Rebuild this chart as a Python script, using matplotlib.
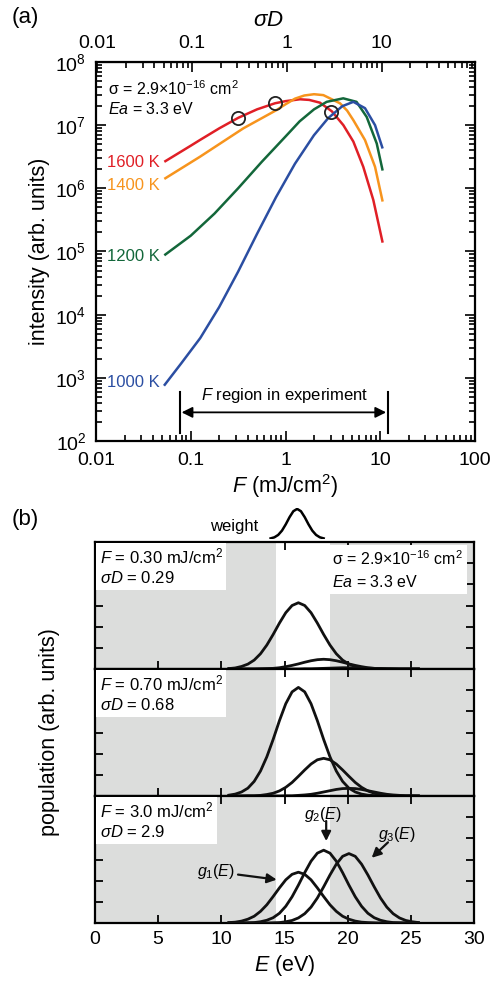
import matplotlib
matplotlib.use('Agg')
import matplotlib.pyplot as plt
from matplotlib.ticker import LogLocator, NullFormatter, MultipleLocator

plt.rcParams['font.family'] = ['Liberation Sans', 'DejaVu Sans']
plt.rcParams['mathtext.fontset'] = 'custom'
plt.rcParams['mathtext.rm'] = 'Liberation Sans'
plt.rcParams['mathtext.it'] = 'Liberation Sans:italic'
plt.rcParams['mathtext.bf'] = 'Liberation Sans:bold'

# ---------------- data: panel (a) ----------------
F_1600 = [0.0526, 0.1, 0.125, 0.2, 0.318, 0.501, 0.774, 1.0, 1.42, 1.78, 2.31, 3.08, 4.08, 5.20, 6.62, 8.45, 10.6]
I_1600 = [2.63e6, 4.73e6, 5.82e6, 8.91e6, 1.31e7, 1.78e7, 2.22e7, 2.40e7, 2.57e7, 2.51e7, 2.27e7, 1.66e7, 1.0e7, 5.5e6, 2.19e6, 6.53e5, 1.38e5]
F_1400 = [0.0526, 0.125, 0.359, 0.807, 1.0, 1.26, 1.58, 2.0, 2.51, 3.76, 4.47, 5.20, 6.90, 8.81, 10.6]
I_1400 = [1.41e6, 3.16e6, 8.91e6, 1.74e7, 2.14e7, 2.63e7, 2.95e7, 3.09e7, 2.99e7, 2.22e7, 1.70e7, 1.20e7, 5.82e6, 2.19e6, 6.17e5]
F_1200 = [0.0526, 0.1, 0.178, 0.316, 0.562, 1.0, 1.41, 2.0, 2.72, 4.07, 5.62, 7.19, 9.18, 10.6]
I_1200 = [8.71e4, 1.78e5, 3.98e5, 1.0e6, 2.63e6, 6.61e6, 1.15e7, 1.78e7, 2.34e7, 2.66e7, 2.34e7, 1.35e7, 5.13e6, 1.91e6]
F_1000 = [0.0522, 0.0794, 0.126, 0.1995, 0.316, 0.501, 0.794, 1.259, 1.995, 2.818, 3.98, 5.20, 6.90, 8.81, 10.6]
I_1000 = [750, 1698, 4266, 1.318e4, 4.79e4, 1.905e5, 7.24e5, 2.455e6, 6.92e6, 1.29e7, 2.0e7, 2.34e7, 1.86e7, 1.0e7, 4.27e6]
temp_labels = ['1600 K', '1400 K', '1200 K', '1000 K']
label_I = [2.6e6, 1.12e6, 8.3e4, 830]
colors = ['#e01f26', '#f7941d', '#13673a', '#2b4ea2']
circ_F = [0.318, 0.774, 3.05]
circ_I = [1.31e7, 2.22e7, 1.62e7]
sigmaD_per_F = 0.967
exp_F = [0.077, 12.0]

# ---------------- data: panel (b) ----------------
E = [10.6, 11.1, 11.6, 12.1, 12.6, 13.1, 13.6, 14.1, 14.6, 15.1, 15.6, 16.1, 16.6, 17.1, 17.6,
     18.1, 18.6, 19.1, 19.6, 20.1, 20.6, 21.1, 21.6, 22.1, 22.6, 23.1, 23.6, 24.1, 24.6, 25.1, 25.6]
p1_g1 = [.02, .05, .12, .23, .42, .72, 1.13, 1.63, 2.17, 2.66, 3.00, 3.13, 3.00, 2.66, 2.17, 1.63,
         1.13, .72, .42, .23, .12, .05, .02, .01, 0, 0, 0, 0, 0, 0, 0]
p1_g2 = [0, 0, 0, 0, 0, .01, .02, .03, .06, .11, .17, .24, .32, .39, .44, .46, .44, .39, .32, .24,
         .17, .11, .06, .03, .02, .01, 0, 0, 0, 0, 0]
p1_g3 = [0, 0, 0, 0, 0, 0, 0, 0, 0, 0, 0, 0, .01, .01, .02, .03, .04, .05, .06, .06, .06, .05, .04,
         .03, .02, .01, .01, 0, 0, 0, 0]
p2_g1 = [.04, .09, .19, .37, .69, 1.18, 1.85, 2.67, 3.56, 4.36, 4.92, 5.13, 4.92, 4.36, 3.56, 2.67,
         1.85, 1.18, .69, .37, .19, .09, .04, .02, .01, 0, 0, 0, 0, 0, 0]
p2_g2 = [0, 0, 0, .01, .01, .03, .07, .13, .24, .41, .64, .93, 1.23, 1.51, 1.71, 1.78, 1.71, 1.51,
         1.23, .93, .64, .41, .24, .13, .07, .03, .01, .01, 0, 0, 0]
p2_g3 = [0, 0, 0, 0, 0, 0, 0, 0, 0, .01, .01, .03, .05, .08, .13, .19, .25, .31, .35, .36, .35, .31,
         .25, .19, .13, .08, .05, .03, .01, .01, 0]
p3_g1 = [.02, .04, .09, .18, .32, .55, .86, 1.25, 1.66, 2.04, 2.30, 2.40, 2.30, 2.04, 1.66, 1.25,
         .86, .55, .32, .18, .09, .04, .02, .01, 0, 0, 0, 0, 0, 0, 0]
p3_g2 = [0, 0, 0, .01, .02, .06, .13, .25, .46, .79, 1.24, 1.79, 2.38, 2.92, 3.30, 3.44, 3.30, 2.92,
         2.38, 1.79, 1.24, .79, .46, .25, .13, .06, .02, .01, 0, 0, 0]
p3_g3 = [0, 0, 0, 0, 0, 0, 0, .01, .02, .06, .12, .24, .44, .75, 1.18, 1.71, 2.27, 2.78, 3.15, 3.28,
         3.15, 2.78, 2.27, 1.71, 1.18, .75, .44, .24, .12, .06, .02]
E_w = [13.9, 14.2, 14.5, 14.8, 15.1, 15.4, 15.7, 16.0, 16.3, 16.6, 16.9, 17.2, 17.5, 17.8, 18.1]
weight = [0.02, .056, .135, .278, .487, .726, .923, 1.0, .923, .726, .487, .278, .135, .056, .02]
window = [14.3, 18.6]
panel_F = ['0.30', '0.70', '3.0']
panel_sD = ['0.29', '0.68', '2.9']

W, H = 499, 982
fig = plt.figure(figsize=(W / 100, H / 100), dpi=100)

def box(l, t, r, b):
    return [l / W, 1 - b / H, (r - l) / W, (b - t) / H]

TICK = 14
LAB = 15.5
ANN = 11.5

# ================= panel (a) =================
ax = fig.add_axes(box(96, 62, 475, 441))
curves = [(F_1600, I_1600), (F_1400, I_1400), (F_1200, I_1200), (F_1000, I_1000)]
for (fx, iy), c, lab, ly in zip(curves, colors, temp_labels, label_I):
    ax.plot(fx, iy, color=c, lw=1.8, solid_capstyle='butt', solid_joinstyle='round')
    ax.text(0.0475, ly, lab, color=c, ha='right', va='center', fontsize=12)
ax.plot(circ_F, circ_I, 'o', ms=9.5, mfc='none', mec='#222222', mew=1.3)
ax.set_xscale('log')
ax.set_yscale('log')
ax.set_xlim(0.01, 100)
ax.set_ylim(1e2, 1e8)
ax.set_xticks([0.01, 0.1, 1, 10, 100], labels=['0.01', '0.1', '1', '10', '100'])
ax.xaxis.set_minor_locator(LogLocator(base=10, subs=range(2, 10), numticks=20))
ax.xaxis.set_minor_formatter(NullFormatter())
ax.yaxis.set_minor_locator(LogLocator(base=10, subs=range(2, 10), numticks=20))
ax.yaxis.set_minor_formatter(NullFormatter())
ax.tick_params(which='both', direction='in', top=False, right=True, width=1.2)
ax.tick_params(which='major', length=7, labelsize=TICK)
ax.tick_params(axis='x', which='major', pad=8)
ax.tick_params(axis='y', which='major', pad=7)
ax.tick_params(which='minor', length=4)
for s in ax.spines.values():
    s.set_linewidth(1.6)
ax.set_xlabel(r'$F$ (mJ/cm$^2$)', fontsize=LAB, labelpad=2)
ax.set_ylabel('intensity (arb. units)', fontsize=LAB, labelpad=4)

sec = ax.secondary_xaxis('top', functions=(lambda f: f * sigmaD_per_F, lambda s: s / sigmaD_per_F))
sec.set_xticks([0.01, 0.1, 1, 10], labels=['0.01', '0.1', '1', '10'])
sec.xaxis.set_minor_locator(LogLocator(base=10, subs=range(2, 10), numticks=20))
sec.xaxis.set_minor_formatter(NullFormatter())
sec.tick_params(which='both', direction='in', width=1.2)
sec.tick_params(which='major', length=7, labelsize=TICK, pad=7)
sec.tick_params(which='minor', length=4)
fig.text(268 / W, 1 - 20 / H, r'$\sigma D$', fontsize=16, ha='center', va='center')

ax.text(0.032, 0.931, 'σ = 2.9×10$^{-16}$ cm$^2$', transform=ax.transAxes, fontsize=ANN, va='center')
ax.text(0.032, 0.877, r'$Ea$ = 3.3 eV', transform=ax.transAxes, fontsize=ANN, va='center')

for fx in exp_F:
    ax.plot([fx, fx], [135, 600], color='k', lw=1.5)
ax.annotate('', xy=(exp_F[0] * 1.04, 284), xytext=(exp_F[1] / 1.04, 284),
            arrowprops=dict(arrowstyle='<|-|>', color='k', lw=1.3, mutation_scale=16,
                            shrinkA=0, shrinkB=0))
ax.text(0.97, 520, r'$F$ region in experiment', ha='center', va='center', fontsize=12)

fig.text(12 / W, 1 - 18 / H, '(a)', fontsize=16, va='center')
fig.text(12 / W, 1 - 520 / H, '(b)', fontsize=16, va='center')

# ================= panel (b) =================
tops = [542, 669, 796]
bots = [669, 796, 923]
panels = [(p1_g1, p1_g2, p1_g3), (p2_g1, p2_g2, p2_g3), (p3_g1, p3_g2, p3_g3)]
grey = '#dcdddc'
axes_b = []
for i, (t, b) in enumerate(zip(tops, bots)):
    a = fig.add_axes(box(95, t, 474, b))
    axes_b.append(a)
    a.axvspan(0, window[0], color=grey, lw=0, zorder=0)
    a.axvspan(window[1], 30, color=grey, lw=0, zorder=0)
    for g in panels[i]:
        a.plot(E, g, color='#111111', lw=2.0, zorder=3, solid_joinstyle='round')
    a.set_xlim(0, 30)
    a.set_ylim(0, 6)
    a.xaxis.set_major_locator(MultipleLocator(5))
    a.yaxis.set_major_locator(MultipleLocator(1))
    a.tick_params(direction='in', top=True, right=True, length=6, width=1.3, labelsize=TICK, pad=6)
    a.set_yticklabels([])
    if i < 2:
        a.set_xticklabels([])
    for s in a.spines.values():
        s.set_linewidth(1.6)
    a.text(0.012, 0.965, r'$F$ = ' + panel_F[i] + ' mJ/cm$^2$' + '\n' + r'$\sigma D$ = ' + panel_sD[i],
           transform=a.transAxes, fontsize=12, va='top', ha='left', linespacing=1.3, zorder=4,
           bbox=dict(boxstyle='square,pad=0.2', fc='white', ec='none'))

axes_b[0].text(0.625, 0.94, 'σ = 2.9×10$^{-16}$ cm$^2$' + '\n' + r'$Ea$ = 3.3 eV',
               transform=axes_b[0].transAxes, fontsize=ANN, va='top', ha='left', linespacing=1.4,
               zorder=4, bbox=dict(boxstyle='square,pad=0.3', fc='white', ec='none'))

a3 = axes_b[2]
a3.set_xlabel(r'$E$ (eV)', fontsize=LAB, labelpad=3)
ak = dict(arrowstyle='-|>', color='#111111', lw=1.6, mutation_scale=14, shrinkA=0, shrinkB=0)
a3.annotate(r'$g_1(E)$', xy=(14.38, 2.05), xytext=(11.1, 2.42), ha='right', va='center',
            fontsize=11.5, arrowprops=ak, zorder=5)
a3.annotate('', xy=(18.3, 3.87), xytext=(18.3, 4.82), arrowprops=ak, zorder=5)
a3.text(18.05, 5.14, r'$g_2(E)$', ha='center', va='center', fontsize=11.5, zorder=5)
a3.annotate('', xy=(21.9, 3.08), xytext=(23.19, 3.81), arrowprops=ak, zorder=5)
a3.text(23.9, 4.19, r'$g_3(E)$', ha='center', va='center', fontsize=11.5, zorder=5)

fig.text(50 / W, 1 - 732 / H, 'population (arb. units)', rotation=90, ha='center', va='center', fontsize=LAB)

# weight curve above panel (b)
aw = fig.add_axes(box(95, 508, 474, 539))
aw.plot(E_w, weight, color='k', lw=1.8)
aw.set_xlim(0, 30)
aw.set_ylim(0, 1.03)
aw.axis('off')
fig.text(234 / W, 1 - 527 / H, 'weight', ha='center', va='center', fontsize=12)

fig.savefig('out.png', dpi=100)
